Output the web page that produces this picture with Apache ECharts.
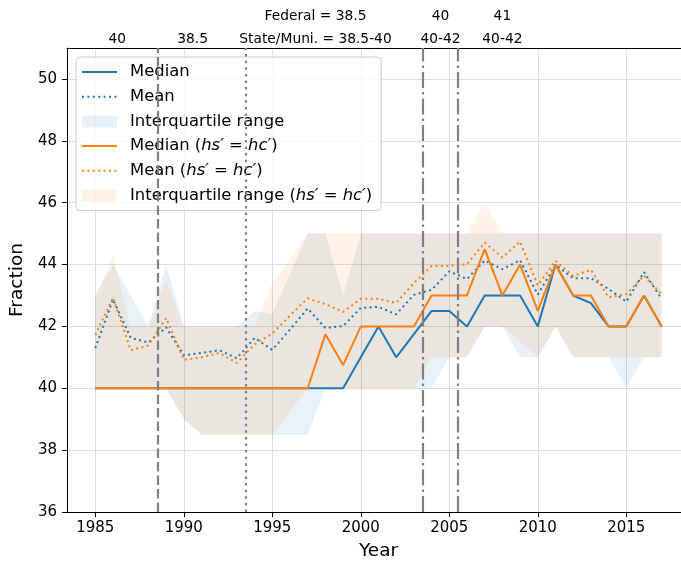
<!DOCTYPE html>
<html><head><meta charset="utf-8">
<script src="https://cdn.jsdelivr.net/npm/echarts@6/dist/echarts.min.js"></script>
<style>html,body{margin:0;padding:0;background:#fff}#c{width:681px;height:565px}</style>
</head><body><div id="c"></div>
<script>
const years = [1985,1986,1987,1988,1989,1990,1991,1992,1993,1994,1995,1996,1997,1998,1999,2000,2001,2002,2003,2004,2005,2006,2007,2008,2009,2010,2011,2012,2013,2014,2015,2016,2017];

const medianHs = [40,40,40,40,40, 40,40,40,40,40, 40,40,40,40,40, 41,42,41,41.75,42.5, 42.5,42,43,43,43, 42,44,43,42.75,42, 42,43,42];
const meanHs   = [41.3,42.87,41.63,41.48,41.97, 41.07,41.14,41.23,40.97,41.63, 41.24,41.9,42.58,41.95,42.01, 42.6,42.63,42.39,43.02,43.18, 43.78,43.53,44.13,43.85,44.14, 43.03,43.99,43.56,43.56,43.21, 42.8,43.75,42.89];
const q1Hs     = [40,40,40,40,40, 39,38.5,38.5,38.5,38.5, 38.5,38.5,38.5,40,40, 40,40,40,40,40, 41,41,42,42,41, 41,42,41,41,41, 40,41,41];
const q3Hs     = [43,44,43,42,44, 42,42,42,42,42.5, 42.4,43.7,45,45,43, 45,45,45,45,45, 45,45,45,45,45, 45,45,45,45,45, 45,45,45];

const medianHc = [40,40,40,40,40, 40,40,40,40,40, 40,40,40,41.75,40.75, 42,42,42,42,43, 43,43,44.5,43,44, 42.5,44,43,43,42, 42,43,42];
const meanHc   = [41.72,42.93,41.23,41.38,42.27, 40.92,41.0,41.14,40.82,41.42, 41.77,42.35,42.91,42.72,42.47, 42.89,42.89,42.76,43.4,43.95, 43.95,44.01,44.71,44.23,44.74, 43.33,44.12,43.63,43.83,42.94, 43.04,43.64,43.04];
const q1Hc     = [40,40,40,40,40, 39,38.5,38.5,38.5,38.5, 38.5,39.25,40,40,40, 40,40,40,40,41, 41,41,42,42,41.5, 41,42,41,41,41, 41,41,41];
const q3Hc     = [43,44.25,42,42,43.5, 42,42,42,42,42, 43.4,44.2,45,45,45, 45,45,45,45,45, 45,45,46,45,45, 45,45,45,45,45, 45,45,45];

const policyYears = [1988.5, 1993.5, 2003.5, 2005.5];
const policyDash  = [[9.5,4],[2.5,4.1],[16,4,2.5,4],[16,4,2.5,4]];
const topLabelPos = [1986.24, 1990.5, 1997.44, 2004.5, 2008];
const topLabels   = ['40', '38.5', 'Federal = 38.5\nState/Muni. = 38.5-40', '40\n40-42', '41\n40-42'];
const xTicks = [1985,1990,1995,2000,2005,2010,2015];
const yTicks = [36,38,40,42,44,46,48,50];

const BLUE = '#1f77b4', ORANGE = '#ff7f0e';
const FILL_B = 'rgba(31,119,180,0.1)', FILL_O = 'rgba(255,127,14,0.1)';
const FONT = 'DejaVu Sans';
const pair = arr => years.map((y,i) => [y, arr[i]]);
const NAME_HC = ' (hs′ = hc′)';

const chart = echarts.init(document.getElementById('c'), null, {renderer:'canvas'});

function lineSeries(name, arr, color, dotted, extra) {
  return Object.assign({
    name, type:'line', data: pair(arr), symbol:'none', z:3,
    lineStyle:{color, width:2, type: dotted ? [2,3.4] : 'solid', cap:'butt'},
    itemStyle:{color}
  }, extra || {});
}
function band(name, lo, hi, fill) {
  return {
    name, type:'custom', z:1, silent:true,
    data: years.map((y,i) => [y, lo[i], hi[i]]),
    encode:{x:0, y:[1,2]},
    itemStyle:{color:fill},
    renderItem(params, api) {
      if (params.dataIndex !== 0) return null;
      const pts = [];
      for (let i = 0; i < years.length; i++) pts.push(api.coord([years[i], hi[i]]));
      for (let i = years.length - 1; i >= 0; i--) pts.push(api.coord([years[i], lo[i]]));
      return {type:'polygon', shape:{points:pts}, style:{fill:fill, stroke:null}, silent:true};
    }
  };
}

const option = {
  animation:false,
  backgroundColor:'#fff',
  textStyle:{fontFamily:FONT},
  grid:{left:67, right:-9, top:48, bottom:53, containLabel:false, outerBoundsMode:'none'},
  xAxis:[{
    type:'value', min:1983.4, max:2018.6, position:'bottom',
    name:'Year', nameLocation:'middle', nameGap:30,
    nameTextStyle:{fontSize:18.5, color:'#000', fontFamily:FONT},
    axisLine:{show:true, onZero:false, lineStyle:{color:'#000', width:1}},
    axisTick:{show:true, length:5, customValues:xTicks, lineStyle:{color:'#000'}},
    axisLabel:{customValues:xTicks, fontSize:15, color:'#000', margin:9, fontFamily:FONT, formatter: v => String(v)},
    splitLine:{show:true, lineStyle:{color:'#dcdcdc', width:1}}
  },{
    type:'value', min:1983.4, max:2018.6, position:'top',
    axisLine:{show:true, onZero:false, lineStyle:{color:'#000', width:1}},
    axisTick:{show:false},
    axisLabel:{customValues:topLabelPos, fontSize:13.8, color:'#000', margin:-3, lineHeight:23, fontFamily:FONT,
      formatter: v => { let k=0, d=1e9; topLabelPos.forEach((p,i)=>{ if (Math.abs(p-v)<d){d=Math.abs(p-v);k=i;} }); return topLabels[k]; }},
    splitLine:{show:false}
  }],
  yAxis:{
    type:'value', min:36, max:51,
    name:'Fraction', nameLocation:'middle', nameGap:31,
    nameTextStyle:{fontSize:18.5, color:'#000', fontFamily:FONT},
    axisLine:{show:true, onZero:false, lineStyle:{color:'#000', width:1}},
    axisTick:{show:true, length:5, customValues:yTicks, lineStyle:{color:'#000'}},
    axisLabel:{customValues:yTicks, fontSize:15, color:'#000', margin:10, fontFamily:FONT},
    splitLine:{show:true, lineStyle:{color:'#dcdcdc', width:1}}
  },
  legend:{
    orient:'vertical', left:76, top:57,
    padding:[5,9,5,5], itemGap:4.7, itemWidth:35, itemHeight:12,
    backgroundColor:'rgba(255,255,255,0.8)', borderColor:'#cccccc', borderWidth:1, borderRadius:4,
    textStyle:{fontSize:16.4, color:'#000', fontFamily:FONT, lineHeight:20, padding:[0,0,0,8],
      rich:{i:{fontStyle:'italic', fontSize:16.4, color:'#000', fontFamily:FONT, lineHeight:20}}},
    formatter: name => name.replace('(hs′ = hc′)', '({i|hs′ = hc′})'),
    data:[
      {name:'Median', itemStyle:{opacity:0}},
      {name:'Mean', itemStyle:{opacity:0}},
      {name:'Interquartile range', icon:'rect', itemStyle:{color:FILL_B}},
      {name:'Median' + NAME_HC, itemStyle:{opacity:0}},
      {name:'Mean' + NAME_HC, itemStyle:{opacity:0}},
      {name:'Interquartile range' + NAME_HC, icon:'rect', itemStyle:{color:FILL_O}}
    ]
  },
  series:[
    band('Interquartile range', q1Hs, q3Hs, FILL_B),
    band('Interquartile range' + NAME_HC, q1Hc, q3Hc, FILL_O),
    lineSeries('Median', medianHs, BLUE, false, {
      markLine:{silent:true, symbol:['none','none'], label:{show:false},
        data: policyYears.map((x,i)=>({xAxis:x, lineStyle:{color:'#808080', width:2.2, type:policyDash[i], cap:'butt'}}))}
    }),
    lineSeries('Mean', meanHs, BLUE, true),
    lineSeries('Median' + NAME_HC, medianHc, ORANGE, false),
    lineSeries('Mean' + NAME_HC, meanHc, ORANGE, true)
  ]
};
chart.setOption(option);
</script>
</body></html>
